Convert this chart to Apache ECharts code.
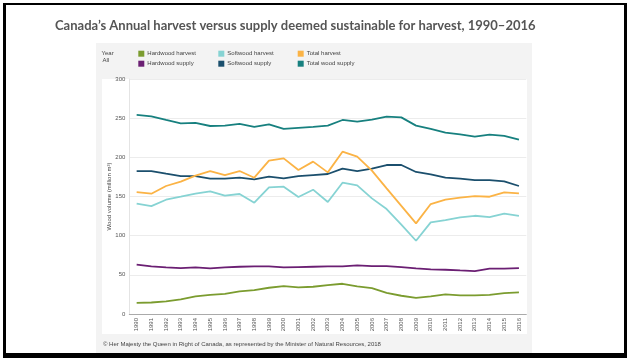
<!DOCTYPE html>
<html>
<head>
<meta charset="utf-8">
<script src="https://cdn.jsdelivr.net/npm/echarts@6/dist/echarts.min.js"></script>
<style>
html,body{margin:0;padding:0;background:#fff;}
#c{width:629px;height:358px;}
</style>
</head>
<body>
<div id="c"></div>
<script>
const years = ['1990','1991','1992','1993','1994','1995','1996','1997','1998','1999','2000','2001','2002','2003','2004','2005','2006','2007','2008','2009','2010','2011','2012','2013','2014','2015','2016'];
const hardwoodHarvest = [14.3,14.7,16.0,18.6,22.4,24.5,25.8,28.8,30.5,33.5,35.6,33.9,34.8,36.9,38.6,35.2,33.1,27.1,23.3,20.7,22.4,25.0,23.7,23.7,24.5,26.7,27.5];
const hardwoodSupply = [62.9,60.7,59.5,58.6,59.5,58.2,59.5,60.3,60.7,60.7,59.5,59.9,60.3,60.7,60.7,62.0,61.1,61.1,59.9,58.2,56.9,56.5,55.6,54.8,57.8,57.8,58.6];
const softwoodHarvest = [140.8,137.8,145.9,149.7,153.6,156.6,151.0,153.2,142.1,161.7,162.5,149.3,158.7,142.9,167.6,164.2,147.6,134.0,114.0,93.5,116.9,119.9,123.3,125.4,123.7,128.0,125.4];
const softwoodSupply = [182.5,182.5,179.1,176.1,176.1,172.7,172.7,174.0,171.9,175.3,173.2,176.1,177.4,178.7,185.5,182.5,185.5,190.2,190.2,181.3,178.3,174.0,172.7,171.0,171.0,169.3,163.4];
const totalHarvest = [155.7,153.6,163.4,168.9,176.6,182.5,177.4,182.5,174.0,195.7,198.7,183.8,194.5,180.8,207.2,200.9,183.0,160.4,138.0,115.7,140.4,145.9,148.5,150.6,149.7,155.3,154.0];
const totalWoodSupply = [254.1,252.4,247.7,243.4,243.9,240.0,240.5,242.6,238.8,242.2,236.2,237.5,238.8,240.5,247.7,245.6,248.1,252.0,251.0,240.5,236.2,231.5,229.4,226.4,229.0,227.3,222.6];
const yTicks = {min:0, max:300, interval:50};

const names = ['Hardwood harvest','Hardwood supply','Softwood harvest','Softwood supply','Total harvest','Total wood supply'];
const colors = ['#7b9c2f','#6b1f73','#86d3d3','#1b4f6d','#fbb345','#17807f'];
const datas = [hardwoodHarvest,hardwoodSupply,softwoodHarvest,softwoodSupply,totalHarvest,totalWoodSupply];

const chart = echarts.init(document.getElementById('c'), null, {renderer:'canvas'});
const font = 'Liberation Sans, Arial, sans-serif';
const legendCommon = {
  orient:'vertical', icon:'rect', itemWidth:6, itemHeight:6, itemGap:4, top:50.7, padding:0,
  textStyle:{fontSize:6, color:'#444', fontFamily:font, lineHeight:6, padding:[0,0,0,-2]},
  selectedMode:false
};
chart.setOption({
  animation:false,
  backgroundColor:'#fff',
  title:{text:'Canada\u2019s Annual harvest versus supply deemed sustainable for harvest, 1990\u20132016',
    left:50, top:14,
    textStyle:{fontSize:13, fontWeight:'bold', color:'#555', fontFamily:'Lato, Open Sans, sans-serif'}},
  graphic:[
    {type:'rect', z:-10, shape:{x:96,y:43,width:436,height:312}, style:{fill:'#f3f3f3'}},
    {type:'rect', z:-9, shape:{x:102,y:79,width:425,height:255}, style:{fill:'#ffffff'}},
    {type:'rect', z:10, shape:{x:3,y:3,width:623,height:2}, style:{fill:'#000'}},
    {type:'rect', z:10, shape:{x:3,y:3,width:3,height:355}, style:{fill:'#000'}},
    {type:'rect', z:10, shape:{x:624,y:3,width:3,height:355}, style:{fill:'#000'}},
    {type:'rect', z:10, shape:{x:3,y:353,width:624,height:5}, style:{fill:'#000'}},
    {type:'text', left:101.5, top:50, style:{text:'Year', fontSize:6, fill:'#444', fontFamily:font}},
    {type:'text', left:102.5, top:57, style:{text:'All', fontSize:6, fill:'#444', fontFamily:font}},
    {type:'text', left:103, top:341, style:{text:'\u00a9 Her Majesty the Queen in Right of Canada, as represented by the Minister of Natural Resources, 2018', fontSize:6, fill:'#444', fontFamily:font}}
  ],
  legend:[
    Object.assign({left:138.3, data:['Hardwood harvest','Hardwood supply']}, legendCommon),
    Object.assign({left:218.3, data:['Softwood harvest','Softwood supply']}, legendCommon),
    Object.assign({left:297.7, data:['Total harvest','Total wood supply']}, legendCommon)
  ],
  grid:{left:129.3, right:102.7, top:79, bottom:44, containLabel:false},
  xAxis:{type:'category', data:years, boundaryGap:true,
    axisTick:{show:false},
    axisLine:{lineStyle:{color:'#aaa', width:1}},
    axisLabel:{rotate:90, fontSize:6, color:'#555', fontFamily:font, margin:4, interval:0}},
  yAxis:{type:'value', min:yTicks.min, max:yTicks.max, interval:yTicks.interval,
    name:'Wood volume (million m\u00b3)', nameLocation:'middle', nameGap:17, nameMoveOverlap:false,
    nameTextStyle:{fontSize:6, color:'#444', fontFamily:font},
    axisLine:{show:true, lineStyle:{color:'#e4e4e4'}},
    axisTick:{show:false},
    splitLine:{lineStyle:{color:'#ececec', width:1}},
    axisLabel:{fontSize:6, color:'#555', fontFamily:font, margin:4}},
  series: names.map((n,i)=>({
    name:n, type:'line', data:datas[i], symbol:'none', smooth:false,
    lineStyle:{color:colors[i], width:1.8}, itemStyle:{color:colors[i]}
  }))
});
</script>
</body>
</html>
